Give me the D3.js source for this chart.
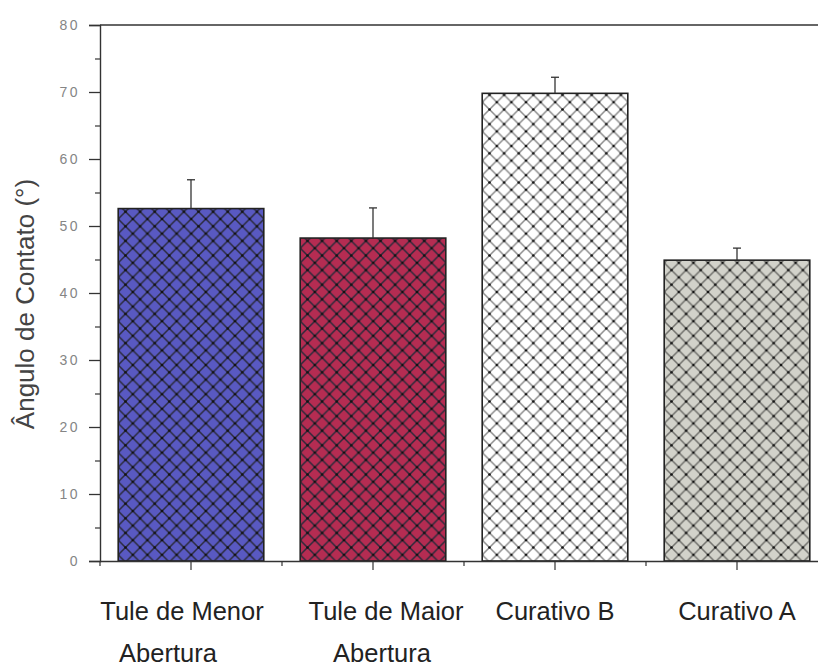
<!DOCTYPE html>
<html>
<head>
<meta charset="utf-8">
<script src="https://cdn.jsdelivr.net/npm/d3@7"></script>
<style>
  html, body { margin: 0; padding: 0; background: #fff; }
  svg { display: block; }
</style>
</head>
<body>
<svg id="chart" width="818" height="669"></svg>
<script>
// Contact angle per sample
const categories = [
  ["Tule de Menor", "Abertura"],
  ["Tule de Maior", "Abertura"],
  ["Curativo B"],
  ["Curativo A"]
];
const values = [52.6, 48.2, 69.8, 44.9];
const errors = [4.3, 4.5, 2.4, 1.8];
const fills = ["#5959c2", "#b52c52", "#ffffff", "#d2d2ca"];
const yTicks = [0, 10, 20, 30, 40, 50, 60, 70, 80];
const yMinorTicks = [5, 15, 25, 35, 45, 55, 65, 75];
const yTitle = "Ângulo de Contato (°)";

const svg = d3.select("#chart");
const plotLeft = 100, plotRight = 828, plotTop = 25, plotBottom = 561;
const font = "Liberation Sans, Arial, sans-serif";

const keys = categories.map((c, i) => "c" + i);
const x = d3.scaleBand().domain(keys).range([plotLeft, plotRight])
  .paddingInner(0.2).paddingOuter(0.1);
const y = d3.scaleLinear().domain([0, 80]).range([plotBottom, plotTop]);

// Cross-hatch pattern, one per bar colour
const defs = svg.append("defs");
const tile = 14.6;
fills.forEach((f, i) => {
  const p = defs.append("pattern")
    .attr("id", "hatch" + i)
    .attr("patternUnits", "userSpaceOnUse")
    .attr("width", tile).attr("height", tile)
    .attr("x", x(keys[i]));
  p.append("rect").attr("width", tile).attr("height", tile).attr("fill", f);
  const lineCol = i === 2 ? "#8a8a8a" : (i === 3 ? "#6e6e6a" : "#2a2a3a");
  p.append("path")
    .attr("d", `M0,0L${tile},${tile}M${tile},0L0,${tile}`)
    .attr("stroke", lineCol).attr("stroke-width", 1.5).attr("fill", "none");
  [[tile/2, tile/2], [0, 0], [tile, 0], [0, tile], [tile, tile]].forEach(([cx, cy]) => {
    p.append("circle").attr("cx", cx).attr("cy", cy).attr("r", 1.3).attr("fill", "#111");
  });
});

// Bars
svg.append("g").selectAll("rect")
  .data(values)
  .join("rect")
  .attr("x", (d, i) => x(keys[i]))
  .attr("y", d => y(d))
  .attr("width", x.bandwidth())
  .attr("height", d => y(0) - y(d))
  .attr("fill", (d, i) => `url(#hatch${i})`)
  .attr("stroke", "#222")
  .attr("stroke-width", 1.6);

// Upper error bars
const eb = svg.append("g").attr("stroke", "#333").attr("stroke-width", 1.3);
values.forEach((v, i) => {
  const cx = x(keys[i]) + x.bandwidth() / 2;
  eb.append("line").attr("x1", cx).attr("x2", cx).attr("y1", y(v)).attr("y2", y(v + errors[i]));
  eb.append("line").attr("x1", cx - 4).attr("x2", cx + 4).attr("y1", y(v + errors[i])).attr("y2", y(v + errors[i]));
});

// Top frame line
svg.append("line").attr("x1", plotLeft).attr("x2", 818).attr("y1", plotTop).attr("y2", plotTop)
  .attr("stroke", "#333").attr("stroke-width", 1.3);

// Y axis
const yAxis = svg.append("g").attr("transform", `translate(${plotLeft},0)`)
  .call(d3.axisLeft(y).tickValues(yTicks).tickSize(11).tickPadding(9).tickFormat(d3.format("d")));
yAxis.select(".domain").attr("stroke", "#333").attr("stroke-width", 1.4);
yAxis.selectAll(".tick line").attr("stroke", "#333").attr("stroke-width", 1.3);
yAxis.selectAll(".tick text")
  .attr("font-family", font)
  .attr("font-size", 14).attr("fill", "#858585").attr("letter-spacing", "2.5px");
svg.append("g").attr("transform", `translate(${plotLeft},0)`)
  .call(d3.axisLeft(y).tickValues(yMinorTicks).tickSize(5).tickFormat(""))
  .call(g => g.select(".domain").remove())
  .selectAll(".tick line").attr("stroke", "#333").attr("stroke-width", 1.2);

// X axis
const xAxis = svg.append("g").attr("transform", `translate(0,${plotBottom})`)
  .call(d3.axisBottom(x).tickSize(9).tickFormat("").tickSizeOuter(0));
xAxis.select(".domain").attr("d", `M${plotLeft},0.5H818`).attr("stroke", "#333").attr("stroke-width", 1.4);
xAxis.selectAll(".tick line").attr("stroke", "#333").attr("stroke-width", 1.2);
// Minor ticks at band boundaries
const bounds = keys.map(k => x(k) - x.step() * x.paddingInner() / 2);
svg.append("g").selectAll("line").data(bounds).join("line")
  .attr("x1", d => d).attr("x2", d => d)
  .attr("y1", plotBottom).attr("y2", plotBottom + 5)
  .attr("stroke", "#333").attr("stroke-width", 1.2);

// Category labels (hand-nudged horizontally, line by line)
const labelNudge = [[-9, -23], [13, 9], [0], [0]];
const lab = svg.append("g")
  .attr("font-family", font)
  .attr("font-size", 25.5).attr("fill", "#222").attr("text-anchor", "middle");
categories.forEach((lines, i) => {
  const cx = x(keys[i]) + x.bandwidth() / 2;
  lines.forEach((t, j) => {
    lab.append("text").attr("x", cx + labelNudge[i][j]).attr("y", 620 + j * 42).text(t);
  });
});

// Y title
svg.append("text")
  .attr("transform", `translate(34,304) rotate(-90)`)
  .attr("text-anchor", "middle")
  .attr("font-family", font)
  .attr("font-size", 26).attr("fill", "#444")
  .text(yTitle);
</script>
</body>
</html>
